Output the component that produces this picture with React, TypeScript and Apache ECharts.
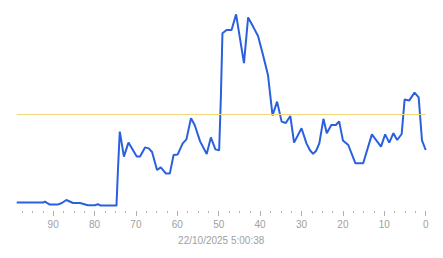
import React, { useEffect, useRef } from "react";
import * as echarts from "echarts";

// x: seconds ago (axis runs right-to-left), y: measured value
const secondsAgo = [
  98.8, 92.4, 92.0, 90.8, 88.9, 87.9, 86.8, 85.2, 83.5, 81.6, 79.9, 79.2, 78.5, 74.7, 74.3, 73.9,
  72.9, 71.8, 69.8, 69.0, 67.8, 66.9, 66.1, 64.9, 64.0, 62.8, 61.8, 60.9, 59.9, 58.7, 57.8, 56.7,
  55.8, 54.5, 52.9, 51.9, 50.8, 49.9, 49.5, 49.1, 48.1, 46.9, 45.8, 43.9, 42.9, 41.7, 40.5, 39.3,
  38.1, 37.0, 35.9, 34.8, 33.8, 32.7, 31.8, 30.0, 28.8, 28.0, 27.2, 26.5, 25.7, 24.7, 23.9, 22.8,
  21.7, 20.9, 20.0, 18.7, 17.0, 15.1, 13.0, 10.8, 9.8, 8.8, 7.8, 6.9, 5.8, 5.1, 4.0, 2.7, 1.7, 0.9, 0.0,
];
const values = [
  4.2, 4.2, 4.7, 3.2, 3.2, 4.0, 5.5, 4.0, 4.0, 2.9, 2.9, 3.4, 2.7, 2.7, 22.5, 39.7,
  27.2, 34.2, 27.2, 27.2, 31.8, 31.3, 29.5, 20.5, 21.8, 18.8, 18.8, 28.0, 28.3, 33.8, 35.8, 46.4,
  43.0, 34.8, 28.5, 36.8, 30.8, 30.3, 55.5, 88.9, 90.5, 90.5, 98.3, 73.9, 96.8, 92.2, 87.5, 78.0,
  68.0, 47.8, 54.7, 44.7, 44.0, 47.5, 34.2, 41.4, 33.8, 30.5, 28.6, 30.0, 33.8, 46.1, 38.9, 43.0,
  43.0, 44.8, 35.3, 33.0, 23.9, 23.9, 38.3, 32.2, 38.3, 34.2, 38.9, 35.5, 38.5, 55.7, 55.2, 59.2, 56.8, 35.3, 30.5,
];
const thresholdValue = 48.4;
const xTickValues = [0, 10, 20, 30, 40, 50, 60, 70, 80, 90];
const axisTitle = "22/10/2025 5:00:38";

export default function App() {
  const ref = useRef<HTMLDivElement>(null);

  useEffect(() => {
    document.body.style.margin = "0";
    if (!ref.current) return;
    const chart = echarts.init(ref.current, undefined, { renderer: "svg" });
    const data = secondsAgo.map((x, i) => [x, values[i]]);
    const font = "'Liberation Sans', Arial, sans-serif";
    chart.setOption({
      animation: false,
      grid: {
        left: 16.7,
        right: 17.3,
        top: 11,
        bottom: 47,
        containLabel: false,
        outerBoundsMode: "none",
      },
      xAxis: {
        type: "value",
        inverse: true,
        min: 0,
        max: 98.8,
        interval: 10,
        axisLine: { show: false },
        splitLine: { show: false },
        axisTick: {
          show: true,
          length: 5,
          customValues: xTickValues,
          lineStyle: { color: "#b0b0b0", width: 1 },
        },
        minorTick: {
          show: true,
          splitNumber: 4,
          length: 2,
          lineStyle: { color: "#b0b0b0", width: 1 },
        },
        axisLabel: {
          color: "#a0a0a0",
          fontSize: 10,
          fontFamily: font,
          margin: 8,
          customValues: xTickValues,
        },
        name: axisTitle,
        nameLocation: "middle",
        nameGap: 24,
        nameTextStyle: { color: "#a0a0a0", fontSize: 10, fontFamily: font },
      },
      yAxis: {
        type: "value",
        min: 0,
        max: 100,
        show: false,
      },
      series: [
        {
          type: "line",
          data,
          showSymbol: false,
          symbol: "none",
          lineStyle: { color: "#2a60de", width: 2 },
          itemStyle: { color: "#2a60de" },
          markLine: {
            silent: true,
            symbol: "none",
            label: { show: false },
            lineStyle: { color: "#f0d67c", width: 1, type: "solid" },
            data: [{ yAxis: thresholdValue }],
          },
        },
      ],
    });
    return () => chart.dispose();
  }, []);

  return (
    <div
      ref={ref}
      style={{ position: "fixed", left: 0, top: 0, width: 443, height: 258, background: "#fff" }}
    />
  );
}
